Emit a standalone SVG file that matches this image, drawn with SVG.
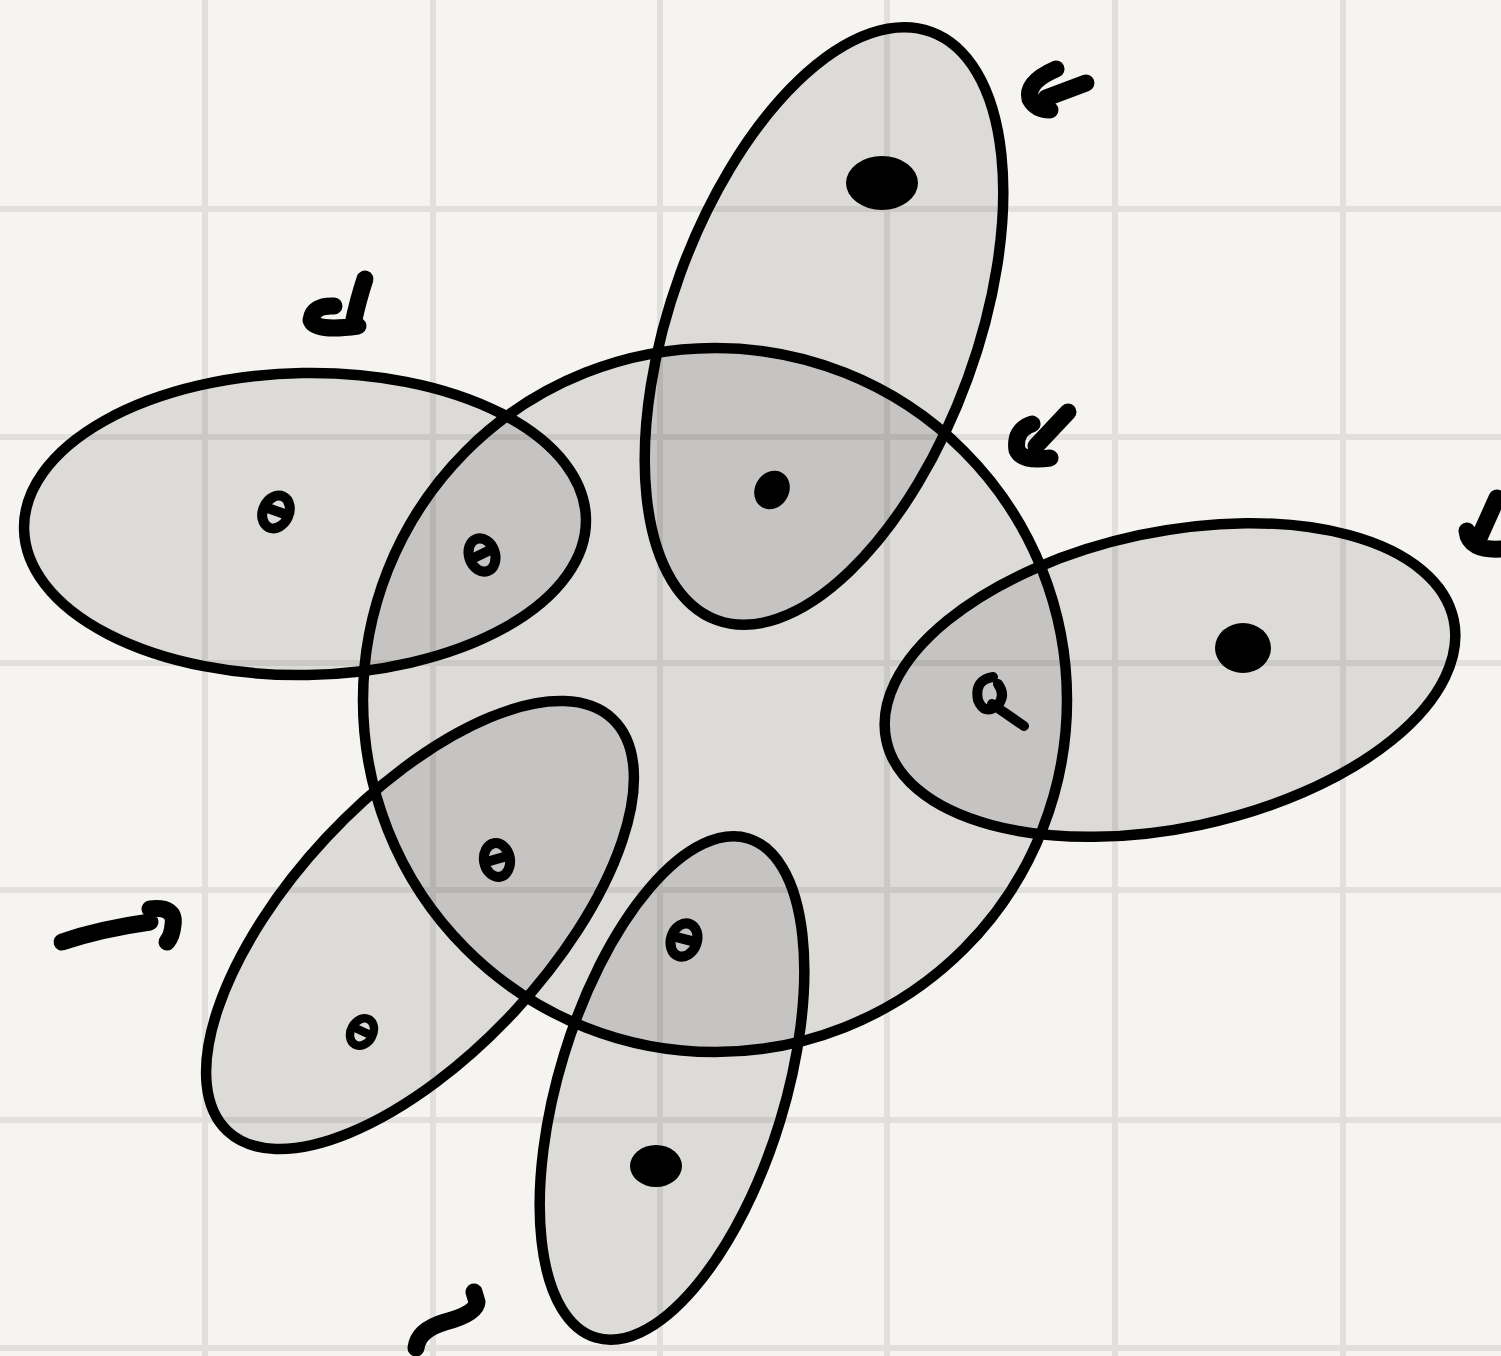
<svg xmlns="http://www.w3.org/2000/svg" width="1501" height="1356" viewBox="0 0 1501 1356">
<style>
.grid line{stroke:#e1e0dd;stroke-width:6}
.shape{fill:#000;fill-opacity:0.1;stroke:#000;stroke-width:10.5}
.mark{fill:none;stroke:#000;stroke-width:17;stroke-linecap:round;stroke-linejoin:round}
.dot8{fill:none;stroke:#000;stroke-width:10;stroke-linecap:round}
.blob{fill:#000}
</style>
<defs>
<g id="eight">
<ellipse cx="0" cy="0" rx="13" ry="17" class="dot8"/>
<path d="M-10,0 L10,-2" class="dot8"/>
</g>
</defs>
<rect width="1501" height="1356" fill="#f5f4f1"/>
<g class="grid">
<line x1="205" y1="0" x2="205" y2="1356"/>
<line x1="433" y1="0" x2="433" y2="1356"/>
<line x1="660" y1="0" x2="660" y2="1356"/>
<line x1="887" y1="0" x2="887" y2="1356"/>
<line x1="1115" y1="0" x2="1115" y2="1356"/>
<line x1="1343" y1="0" x2="1343" y2="1356"/>
<line x1="0" y1="209" x2="1501" y2="209"/>
<line x1="0" y1="437" x2="1501" y2="437"/>
<line x1="0" y1="663" x2="1501" y2="663"/>
<line x1="0" y1="890" x2="1501" y2="890"/>
<line x1="0" y1="1120" x2="1501" y2="1120"/>
<line x1="0" y1="1348" x2="1501" y2="1348"/>
</g>
<g id="center-circle">
<circle cx="715" cy="700" r="352" class="shape"/>
</g>
<g id="petal-top">
<ellipse cx="824" cy="326" rx="153" ry="313" transform="rotate(20 824 326)" class="shape"/>
<ellipse cx="882" cy="183" rx="36" ry="27" class="blob"/>
<ellipse cx="772" cy="490" rx="17" ry="20" transform="rotate(30 772 490)" class="blob"/>
</g>
<g id="petal-left">
<ellipse cx="305" cy="524" rx="281" ry="151" transform="rotate(-1 305 524)" class="shape"/>
<use href="#eight" transform="translate(276,512) rotate(25)"/>
<use href="#eight" transform="translate(482,555) rotate(-20)"/>
</g>
<g id="petal-right">
<ellipse cx="1170" cy="680" rx="290" ry="148" transform="rotate(-12 1170 680)" class="shape"/>
<ellipse cx="1243" cy="648" rx="28" ry="25" class="blob"/>
<path d="M993,677 Q974,680 978,700 Q984,716 998,705 Q1006,695 998,684 M992,704 L1024,726" class="dot8"/>
</g>
<g id="petal-lower-left">
<ellipse cx="420" cy="925" rx="128" ry="282" transform="rotate(43 420 925)" class="shape"/>
<use href="#eight" transform="translate(497,860) rotate(-10)"/>
<use href="#eight" transform="translate(362,1032) rotate(30) scale(0.85)"/>
</g>
<g id="petal-bottom">
<ellipse cx="672" cy="1088" rx="113" ry="261" transform="rotate(17 672 1088)" class="shape"/>
<use href="#eight" transform="translate(684,940) rotate(20)"/>
<ellipse cx="656" cy="1166" rx="26" ry="21" class="blob"/>
</g>
<g id="marks">
<path d="M1086,83 L1046,98 M1056,69 Q1026,82 1030,99 Q1036,110 1050,110" class="mark"/>
<path d="M365,279 Q358,300 353,324 M334,306 Q313,305 311,320 Q315,332 358,326" class="mark"/>
<path d="M1068,412 L1036,446 M1032,424 Q1014,430 1017,450 Q1022,462 1050,458" class="mark"/>
<path d="M1497,498 L1479,538 M1467,531 Q1469,551 1501,549" class="mark"/>
<path d="M62,942 Q100,929 150,922 M150,909 Q176,906 173,925 Q172,936 167,942" class="mark"/>
<path d="M416,1348 Q418,1330 445,1322 Q476,1314 477,1302 L474,1292" class="mark"/>
</g>
</svg>
